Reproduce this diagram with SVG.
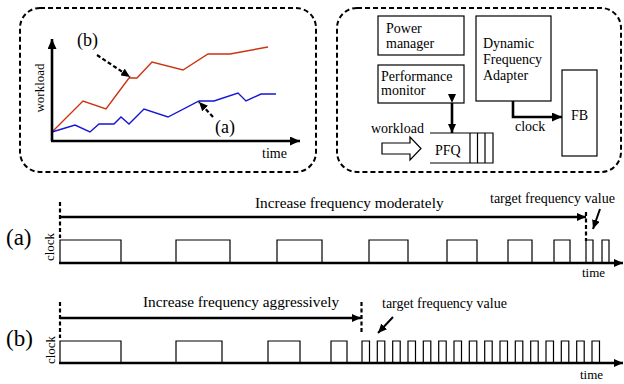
<svg xmlns="http://www.w3.org/2000/svg" width="624" height="384" viewBox="0 0 624 384">
<style>
text{font-family:"Liberation Serif","Times New Roman",serif;fill:#000}
.panel{fill:none;stroke:#000;stroke-width:2;stroke-dasharray:5 3}
.box{fill:#fff;stroke:#000;stroke-width:1.2}
.thin{fill:none;stroke:#000;stroke-width:1.2}
.thick{fill:none;stroke:#000;stroke-width:2.6}
.dash{fill:none;stroke:#000;stroke-width:2.2;stroke-dasharray:4 2.5}
.wave{fill:none;stroke:#000;stroke-width:1.2}
.t14{font-size:14px}
.t13{font-size:13px}
.t15{font-size:15.3px}
.t12{font-size:14px}
.lab{font-size:23px}
</style>
<defs>
<marker id="ah" markerUnits="userSpaceOnUse" markerWidth="11" markerHeight="9" refX="10" refY="4.5" orient="auto-start-reverse" viewBox="0 0 11 9">
<path d="M0,0 L10,4.5 L0,9 z" fill="#000"/>
</marker>
<marker id="ahs" markerUnits="userSpaceOnUse" markerWidth="10" markerHeight="8" refX="9" refY="4" orient="auto" viewBox="0 0 10 8">
<path d="M0,0 L9,4 L0,8 z" fill="#000"/>
</marker>
</defs>

<g id="workload-chart">
<rect class="panel" x="20" y="8" width="296" height="164" rx="20"/>
<polyline fill="none" stroke="#cc3311" stroke-width="1.4" points="52,132 83,101 106,109 129,78 137,78 152,62 183,70 208,54 230,54 268,47"/>
<polyline fill="none" stroke="#1515d8" stroke-width="1.4" points="52,132 75,125 90,132 99,124 114,124 121,117 129,124 144,109 168,117 199,101 214,101 238,93 246,101 261,94 276,94"/>
<text class="t13" transform="translate(44,88) rotate(-90)" text-anchor="middle">workload</text>
<text class="t14" x="262" y="158">time</text>
<text font-size="18" x="77" y="46">(b)</text>
<text font-size="18" x="215" y="133">(a)</text>
</g>

<g id="power-manager">
<rect class="box" x="378" y="16" width="86" height="39"/>
<text class="t14" x="386" y="33">Power</text>
<text class="t14" x="386" y="48">manager</text>
</g>
<g id="performance-monitor">
<rect class="box" x="378" y="65" width="86" height="38"/>
<text class="t14" x="381" y="81">Performance</text>
<text class="t14" x="381" y="95">monitor</text>
</g>
<g id="dfa">
<rect class="box" x="476" y="16" width="75" height="85"/>
<text class="t14" x="483" y="48">Dynamic</text>
<text class="t14" x="483" y="64">Frequency</text>
<text class="t14" x="483" y="80">Adapter</text>
</g>
<g id="fb">
<rect class="box" x="562" y="70" width="35" height="86"/>
<text class="t14" x="579.5" y="120" text-anchor="middle">FB</text>
</g>
<g id="pfq">
<path class="thin" d="M430,133 H493 V163 H430 M470,133 V163 M477.5,133 V163 M485,133 V163"/>
<text class="t14" x="435" y="155">PFQ</text>
</g>
<g id="workload-input">
<polygon fill="#fff" stroke="#000" stroke-width="1.2" points="382,143 410,143 410,137 421,148.5 410,160 410,154 382,154"/>
<text class="t14" x="371" y="133">workload</text>
</g>
<g id="system-panel">
<rect class="panel" x="337" y="8" width="284" height="164" rx="20"/>
</g>

<g id="connectors">
<line class="thick" x1="52" y1="141" x2="52" y2="39" marker-end="url(#ah)"/>
<line class="thick" x1="51" y1="141" x2="300" y2="141" marker-end="url(#ah)"/>
<line class="dash" x1="97" y1="55" x2="130" y2="77" marker-end="url(#ahs)"/>
<line class="dash" x1="213" y1="117" x2="199" y2="102" marker-end="url(#ahs)"/>
<line class="thick" x1="452" y1="103" x2="452" y2="133" marker-start="url(#ahs)" marker-end="url(#ahs)"/>
<path class="thick" d="M513,101 V117 H562" marker-end="url(#ah)"/>
<text class="t14" x="515" y="131">clock</text>
</g>

<g id="timeline-a">
<text class="lab" x="6" y="245">(a)</text>
<text class="t13" transform="translate(54,247) rotate(-90)" text-anchor="middle">clock</text>
<line class="dash" x1="60" y1="202" x2="60" y2="238"/>
<line class="thick" x1="60" y1="217" x2="586" y2="217" marker-end="url(#ahs)"/>
<text class="t15" x="255" y="208">Increase frequency moderately</text>
<line class="dash" x1="586" y1="212" x2="586" y2="241"/>
<text class="t12" x="490" y="203">target frequency value</text>
<line stroke="#000" stroke-width="2" x1="600" y1="209" x2="593" y2="229" marker-end="url(#ahs)"/>
<path class="wave" d="M60,263 V240 H121 V263 M176,263 V240 H230 V263 M277,263 V240 H322 V263 M369,263 V240 H408 V263 M447,263 V240 H477 V263 M508,263 V240 H532 V263 M554,263 V240 H570 V263 M586,263 V240 H593 V263 M602,263 V240 H609 V263"/>
<line class="thick" x1="59" y1="263" x2="623" y2="263" marker-end="url(#ahs)"/>
<text class="t13" x="582" y="277">time</text>
</g>

<g id="timeline-b">
<text class="lab" x="6" y="346">(b)</text>
<text class="t13" transform="translate(55,350) rotate(-90)" text-anchor="middle">clock</text>
<line class="dash" x1="60" y1="302" x2="60" y2="338"/>
<line class="thick" x1="60" y1="318" x2="361" y2="318" marker-end="url(#ahs)"/>
<text class="t15" x="143" y="307">Increase frequency aggressively</text>
<line class="dash" x1="361.5" y1="302" x2="361.5" y2="333"/>
<text class="t12" x="382" y="308">target frequency value</text>
<line stroke="#000" stroke-width="2" x1="393" y1="317" x2="378" y2="333" marker-end="url(#ahs)"/>
<path class="wave" d="M60,363 V341 H121 V363 M176,363 V341 H222 V363 M268,363 V341 H300 V363 M331,363 V341 H347 V363 M362,363 V341 H369.5 V363 M377.3,363 V341 H384.8 V363 M392.7,363 V341 H400.2 V363 M408,363 V341 H415.5 V363 M423.3,363 V341 H430.8 V363 M438.7,363 V341 H446.2 V363 M454,363 V341 H461.5 V363 M469.3,363 V341 H476.8 V363 M484.7,363 V341 H492.2 V363 M500,363 V341 H507.5 V363 M515.3,363 V341 H522.8 V363 M530.7,363 V341 H538.2 V363 M546,363 V341 H553.5 V363 M561.3,363 V341 H568.8 V363 M576.7,363 V341 H584.2 V363 M592,363 V341 H599.5 V363"/>
<line class="thick" x1="59" y1="363" x2="623" y2="363" marker-end="url(#ahs)"/>
<text class="t13" x="580" y="379">time</text>
</g>
</svg>
